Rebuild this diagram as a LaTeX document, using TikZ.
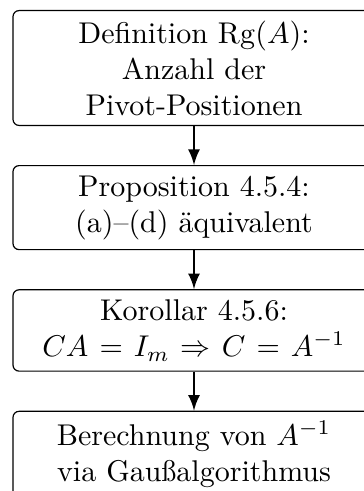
\documentclass[tikz,border=0pt]{standalone}
\usepackage{amsmath, amssymb}
\usepackage{tikz}
\usetikzlibrary{positioning}

\begin{document}
\begin{tikzpicture}[
  infobox/.style={draw, rounded corners=2pt, align=center, text width=114pt},
  link/.style={->, >=latex, thick}
]

\useasboundingbox (0,0) rectangle (121.33pt,-163.67pt);

\node[infobox, anchor=north] (def) at (64.67pt,-3.33pt) {Definition $\mathrm{Rg}(A)$:\\ Anzahl der\\ Pivot-Positionen};
\node[infobox, below=13pt of def] (prop) {Proposition 4.5.4:\\ (a)--(d) äquivalent};
\node[infobox, below=13pt of prop] (kor) {Korollar 4.5.6:\\ $CA = I_m \Rightarrow C = A^{-1}$};
\node[infobox, below=13pt of kor] (gauss) {Berechnung von $A^{-1}$\\ via Gaußalgorithmus};

\draw[link] (def) -- (prop);
\draw[link] (prop) -- (kor);
\draw[link] (kor) -- (gauss);

\end{tikzpicture}
\end{document}
